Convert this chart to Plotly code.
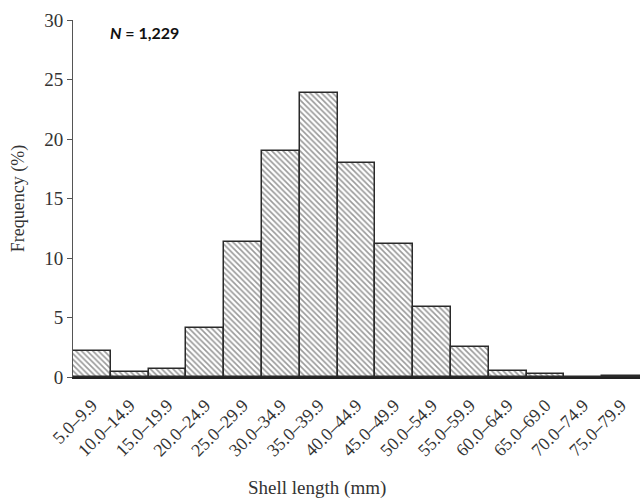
import plotly.graph_objects as go

categories = ["5.0–9.9", "10.0–14.9", "15.0–19.9", "20.0–24.9", "25.0–29.9",
              "30.0–34.9", "35.0–39.9", "40.0–44.9", "45.0–49.9", "50.0–54.9",
              "55.0–59.9", "60.0–64.9", "65.0–69.0", "70.0–74.9", "75.0–79.9"]
frequency = [2.2, 0.4, 0.65, 4.1, 11.35, 19.0, 23.9, 17.95, 11.2, 5.9,
             2.55, 0.5, 0.28, 0.0, 0.12]
y_ticks = [0, 5, 10, 15, 20, 25, 30]

serif = "Liberation Serif, Times New Roman, serif"

fig = go.Figure()
fig.add_trace(go.Bar(
    x=categories, y=frequency,
    marker=dict(
        color="white",
        line=dict(color="#2a2a2a", width=1.5),
        pattern=dict(shape="\\", fgcolor="#333333", bgcolor="white",
                     size=4, solidity=0.4),
    ),
    showlegend=False,
))

fig.update_layout(
    width=640, height=498,
    margin=dict(l=73, r=0, t=20, b=121),
    plot_bgcolor="white", paper_bgcolor="white",
    bargap=0,
    font=dict(family=serif, color="#222"),
    xaxis=dict(
        type="category", range=[-0.5, 14.5], automargin=False,
        showline=True, linecolor="#222", linewidth=1.5,
        ticks="outside", ticklen=9, tickcolor="rgba(0,0,0,0)", tickangle=-45,
        tickfont=dict(size=18, family=serif, color="#333"),
        showgrid=False, zeroline=False,
    ),
    yaxis=dict(
        range=[0, 30], tickvals=y_ticks, automargin=False,
        showline=True, linecolor="#555", linewidth=1,
        ticks="outside", ticklen=5, tickcolor="#555",
        tickfont=dict(size=19, family=serif, color="#333"),
        title=dict(text="Frequency (%)", standoff=14,
                   font=dict(size=18, family=serif, color="#333")),
        showgrid=False, zeroline=False,
    ),
    annotations=[
        dict(
            text="<b><i>N</i> = 1,229</b>", xref="paper", yref="paper",
            x=0.062, y=0.965, xanchor="left", yanchor="middle", showarrow=False,
            font=dict(size=16, family="Lato, Liberation Sans, sans-serif", color="#111"),
        ),
        dict(
            text="Shell length (mm)", xref="paper", yref="paper",
            x=0.43, y=-0.31, xanchor="center", yanchor="middle", showarrow=False,
            font=dict(size=19, family=serif, color="#333"),
        ),
    ],
)

fig.write_html("out.html")
